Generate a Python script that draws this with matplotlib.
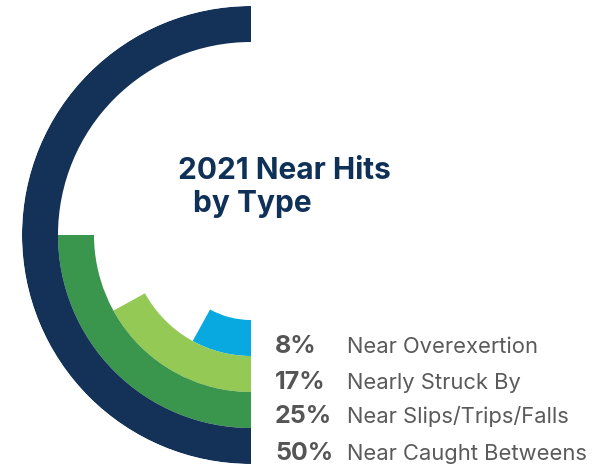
import numpy as np
import matplotlib.pyplot as plt

# data
pcts = [8, 17, 25, 50]
labels = ['Near Overexertion', 'Nearly Struck By', 'Near Slips/Trips/Falls', 'Near Caught Betweens']
colors = ['#08a8e0', '#93c954', '#3a954d', '#143257']
title_lines = ['2021 Near Hits', 'by Type']

W, H = 610, 466
fig = plt.figure(figsize=(W / 100, H / 100), dpi=100)

# polar axes, center at about (251, 235) px, outer radius 229 px
cx, cy, R = 251, 235, 229
ax = fig.add_axes([(cx - R) / W, (H - cy - R) / H, 2 * R / W, 2 * R / H], projection='polar')
ax.set_theta_zero_location('S')
ax.set_theta_direction(-1)

ring_w = 36
inner0 = R - ring_w * len(pcts)
for i, (p, c) in enumerate(zip(pcts, colors)):
    ax.bar(0, ring_w, width=p / 100 * 2 * np.pi, bottom=inner0 + i * ring_w,
           align='edge', color=c, edgecolor='none')
ax.set_ylim(0, R)
ax.axis('off')

def px(x, y):
    return x / W, 1 - y / H

# title
title_col = '#0f3057'
fig.text(*px(178, 179), title_lines[0], fontsize=21.5, fontweight='bold', color=title_col,
         family='Inter', va='baseline', ha='left')
fig.text(*px(193, 212), title_lines[1], fontsize=21.5, fontweight='bold', color=title_col,
         family='Inter', va='baseline', ha='left')

# legend rows
baselines = [353, 389, 423, 460]
for p, lab, yb in zip(pcts, labels, baselines):
    fig.text(*px(275, yb), f'{p}%', fontsize=18, fontweight='bold', color='#555555',
             family='Inter', va='baseline', ha='left')
    fig.text(*px(347, yb), lab, fontsize=15.8, color='#5a5a5a',
             family='Inter', va='baseline', ha='left')

fig.savefig('out.png', dpi=100)
